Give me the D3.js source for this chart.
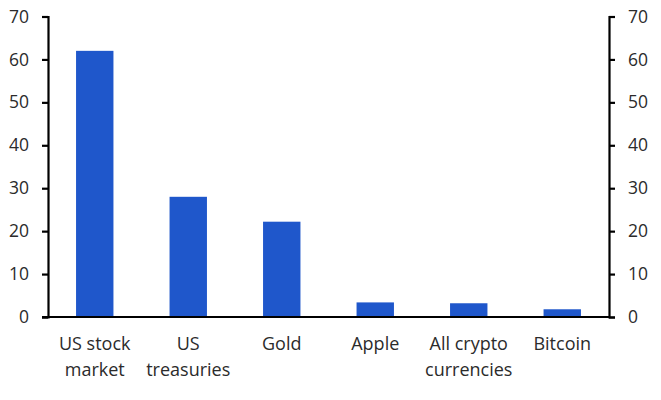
<!DOCTYPE html>
<html><head><meta charset="utf-8">
<script src="https://cdn.jsdelivr.net/npm/d3@7"></script>
<style>body{margin:0;background:#fff}svg{display:block}</style>
</head><body>
<svg id="c" width="661" height="400"></svg>
<script>
const categories = [["US stock","market"],["US","treasuries"],["Gold"],["Apple"],["All crypto","currencies"],["Bitcoin"]];
const values = [62.0, 28.0, 22.2, 3.4, 3.2, 1.8];
const yTicks = [0,10,20,30,40,50,60,70];

const svg = d3.select("#c");
const L = 48, R = 609, T = 16.5, B = 317;
const keys = categories.map((d,i)=>i);
const x = d3.scaleBand().domain(keys).range([L,R]).paddingInner(0.6).paddingOuter(0.3);
const y = d3.scaleLinear().domain([0,70]).range([B,T]);
const font = "'Open Sans', 'Noto Sans', sans-serif";
const txt = "#2b2b2b";

svg.append("g").selectAll("rect").data(values).join("rect")
  .attr("x",(d,i)=>x(i)).attr("width",x.bandwidth())
  .attr("y",d=>y(d)).attr("height",d=>y(0)-y(d))
  .attr("fill","#1f57cb");

function styleAxis(g){
  g.select(".domain").attr("stroke","#000").attr("stroke-width",2.2);
  g.selectAll(".tick line").attr("stroke","#000").attr("stroke-width",2.2);
  g.selectAll(".tick text").attr("fill",txt).attr("font-family",font).attr("font-size",17.5);
}
svg.append("g").attr("transform",`translate(${L},0)`)
  .call(d3.axisLeft(y).tickValues(yTicks).tickSize(6).tickPadding(13).tickSizeOuter(6))
  .call(styleAxis);
svg.append("g").attr("transform",`translate(${R},0)`)
  .call(d3.axisRight(y).tickValues(yTicks).tickSize(6).tickPadding(13).tickSizeOuter(6))
  .call(styleAxis);

// x baseline
svg.append("line").attr("x1",L-6).attr("x2",R).attr("y1",y(0)).attr("y2",y(0))
  .attr("stroke","#000").attr("stroke-width",2.2);

// category labels
const lab = svg.append("g").attr("font-family",font).attr("font-size",18).attr("fill",txt).attr("text-anchor","middle");
categories.forEach((lines,i)=>{
  const cx = x(i)+x.bandwidth()/2;
  const t = lab.append("text").attr("x",cx).attr("y",350);
  lines.forEach((s,j)=>t.append("tspan").attr("x",cx).attr("dy",j?26:0).text(s));
});
</script>
</body></html>
